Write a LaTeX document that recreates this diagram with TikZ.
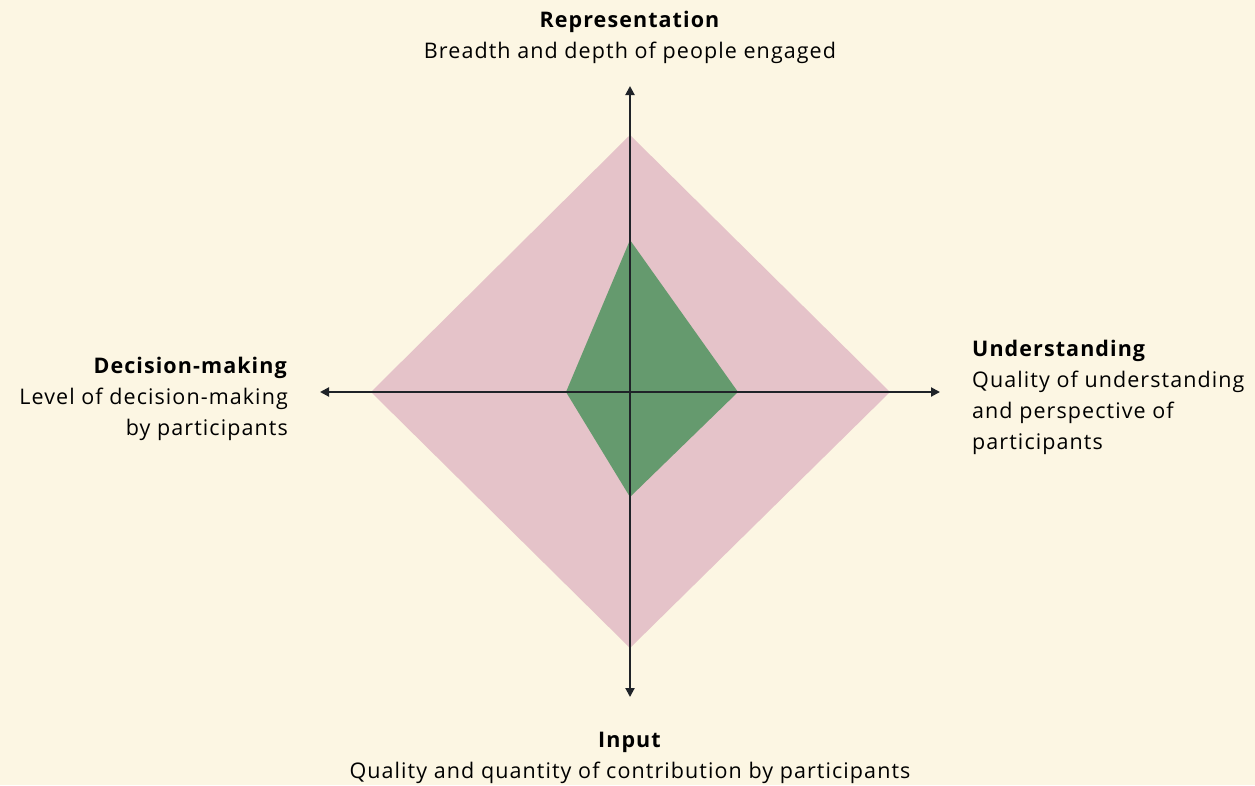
\documentclass[tikz,border=0pt]{standalone}
\usepackage{fontspec}
\setmainfont[LetterSpace=5]{Open Sans}
\usetikzlibrary{arrows.meta}
\definecolor{bg}{HTML}{FCF6E3}
\definecolor{pinkfill}{HTML}{E5C3C9}
\definecolor{greenfill}{HTML}{659A6E}
\definecolor{axis}{HTML}{1F2328}
\begin{document}
\begin{tikzpicture}[x=1pt,y=-1pt,
  axisline/.style={draw=axis,line width=2pt,-{Triangle[length=9pt,width=9pt]}},
  lbl/.style={font=\fontsize{21.5}{31}\selectfont,inner sep=0pt,align=center}]
\fill[bg] (0,0) rectangle (1255,785);
\useasboundingbox (0,0) rectangle (1255,785);
\coordinate (c) at (630,392);
\coordinate (pt) at (630,135);
\coordinate (pr) at (890,392);
\coordinate (pb) at (630,648);
\coordinate (pl) at (371,392);
\coordinate (gt) at (630,240);
\coordinate (gr) at (738,392);
\coordinate (gb) at (630,497);
\coordinate (gl) at (566,392);
\fill[pinkfill] (pt) -- (pr) -- (pb) -- (pl) -- cycle;
\fill[greenfill] (gt) -- (gr) -- (gb) -- (gl) -- cycle;
\coordinate (at) at (630,86);
\coordinate (ab) at (630,697);
\coordinate (al) at (320,392);
\coordinate (ar) at (940,392);
\draw[axisline] (c) -- (at);
\draw[axisline] (c) -- (ab);
\draw[axisline] (c) -- (al);
\draw[axisline] (c) -- (ar);
\node[lbl,anchor=base] (rep) at (630,58) {\textbf{Representation}\\Breadth and depth of people engaged};
\node[lbl,anchor=base] (inp) at (630,778) {\textbf{Input}\\Quality and quantity of contribution by participants};
\node[lbl,anchor=base east,align=right] (dec) at (288,435) {\textbf{Decision-making}\\Level of decision-making\\by participants};
\node[lbl,anchor=base west,align=left] (und) at (972,449) {\textbf{Understanding}\\Quality of understanding\\and perspective of\\participants};
\end{tikzpicture}
\end{document}
